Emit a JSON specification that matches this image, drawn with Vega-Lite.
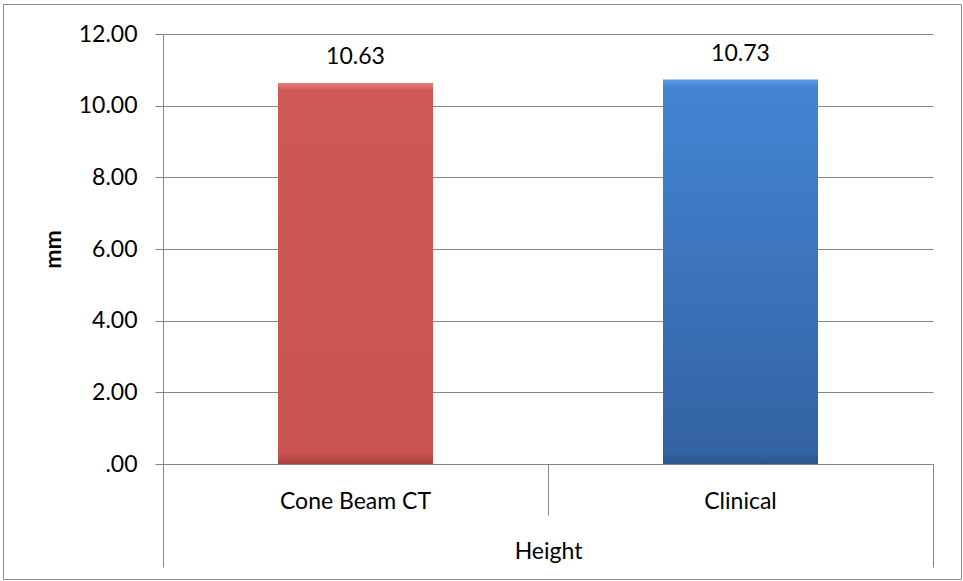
{
  "$schema": "https://vega.github.io/schema/vega-lite/v6.json",
  "autosize": "none",
  "padding": {"left": 3, "top": 4, "right": 2, "bottom": 2},
  "width": 958,
  "height": 575,
  "background": "white",
  "config": {
    "font": "Lato",
    "view": {"stroke": "#8c8c8c", "strokeWidth": 1, "fill": "white"},
    "axis": {
      "labelFont": "Lato", "titleFont": "Lato", "labelColor": "#000000", "titleColor": "#000000",
      "labelFontSize": 23, "titleFontSize": 23,
      "domainColor": "#868686", "tickColor": "#868686", "gridColor": "#868686",
      "domainWidth": 1, "tickWidth": 1, "gridWidth": 1
    }
  },
  "data": {"values": [
    {"category": "Cone Beam CT", "value": 10.63},
    {"category": "Clinical", "value": 10.73}
  ]},
  "encoding": {
    "x": {
      "field": "category", "type": "nominal", "sort": null,
      "scale": {"domain": ["Cone Beam CT", "Clinical"], "range": [160, 930], "paddingInner": 0, "paddingOuter": 0},
      "axis": {
        "orient": "bottom", "offset": -115,
        "bandPosition": 1, "tickExtra": true,
        "tickSize": {"condition": {"test": "datum.value === 'Cone Beam CT'", "value": 51}, "value": 103},
        "labelPadding": {"condition": {"test": "datum.value === 'Cone Beam CT'", "value": -7}, "value": -59},
        "labelBaseline": "alphabetic", "labelAngle": 0,
        "grid": false,
        "title": "Height", "titleFontWeight": "normal", "titleX": 545, "titleY": 94,
        "titleBaseline": "alphabetic", "titleAlign": "center"
      }
    },
    "y": {
      "field": "value", "type": "quantitative",
      "scale": {"domain": [0, 12], "range": [460, 30], "nice": false, "zero": true},
      "axis": {
        "orient": "left", "offset": -160,
        "values": [0, 2, 4, 6, 8, 10, 12],
        "labelExpr": "datum.value === 0 ? '.00' : format(datum.value, '.2f')",
        "tickSize": 8, "labelPadding": 18, "labelBaseline": "middle",
        "grid": true,
        "title": "mm", "titleFontWeight": "bold", "titleX": -110, "titleY": 245,
        "titleBaseline": "middle", "titleAlign": "center", "titleAngle": -90
      }
    }
  },
  "layer": [
    {
      "mark": {"type": "bar", "width": {"band": 0.4026}},
      "encoding": {
        "color": {
          "condition": {
            "test": "datum.category === 'Clinical'",
            "value": {"gradient": "linear", "x1": 0, "y1": 0, "x2": 0, "y2": 1, "stops": [
              {"offset": 0, "color": "#5C9BE8"},
              {"offset": 0.02, "color": "#4384D3"},
              {"offset": 0.97, "color": "#3363A3"},
              {"offset": 1, "color": "#2A5389"}
            ]}
          },
          "value": {"gradient": "linear", "x1": 0, "y1": 0, "x2": 0, "y2": 1, "stops": [
            {"offset": 0, "color": "#E57B79"},
            {"offset": 0.02, "color": "#CE5856"},
            {"offset": 0.97, "color": "#C95452"},
            {"offset": 1, "color": "#A84240"}
          ]}
        }
      }
    },
    {
      "mark": {"type": "text", "baseline": "alphabetic", "dy": -19, "fontSize": 23, "font": "Lato", "color": "#000000"},
      "encoding": {
        "text": {"field": "value", "type": "quantitative", "format": ".2f"}
      }
    }
  ]
}
